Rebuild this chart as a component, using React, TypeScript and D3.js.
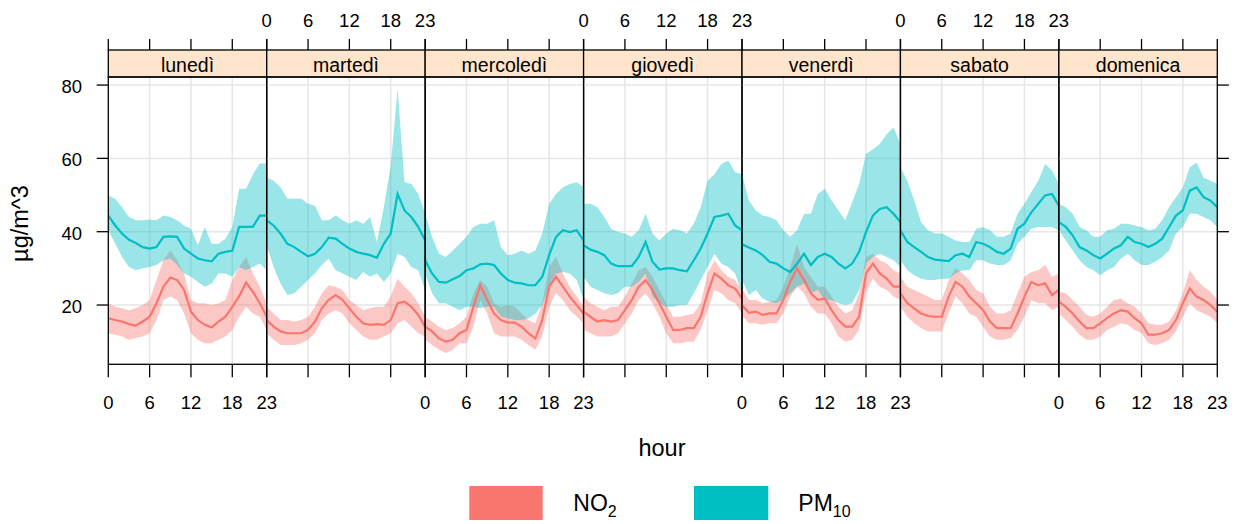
import React from 'react';
import * as d3 from 'd3';

// weekday panels, hourly means with 95% CI (µg/m^3)
const days = ['lunedì', 'martedì', 'mercoledì', 'giovedì', 'venerdì', 'sabato', 'domenica'];
const hourTicks = [0, 6, 12, 18, 23];
const yTicks = [20, 40, 60, 80];

const no2Mean = [
  [16.4, 15.9, 15.5, 14.8, 14.4, 15.5, 16.8, 20.5, 25.0, 27.5, 26.8, 24.1, 18.2, 15.9, 14.6, 13.9, 15.5, 16.8, 19.5, 22.4, 26.1, 23.6, 20.5, 16.8],
  [15.9, 14.1, 12.8, 12.3, 12.3, 12.3, 13.2, 15.5, 19.1, 21.4, 22.7, 21.4, 19.1, 16.8, 15.0, 14.6, 14.8, 14.6, 15.9, 20.5, 20.9, 19.5, 17.3, 14.1],
  [14.1, 12.8, 10.9, 10.0, 10.5, 12.3, 13.2, 19.5, 25.4, 21.4, 17.7, 15.9, 15.2, 15.2, 14.1, 12.3, 10.9, 15.9, 25.0, 27.7, 25.0, 22.3, 20.0, 17.7],
  [18.2, 16.8, 15.5, 15.9, 15.5, 15.9, 18.6, 21.4, 25.0, 26.8, 24.1, 20.5, 16.8, 13.2, 13.2, 13.7, 13.7, 16.8, 23.2, 28.6, 27.2, 25.4, 24.5, 21.8],
  [20.0, 17.9, 18.2, 17.3, 17.7, 17.7, 21.4, 26.3, 30.0, 26.8, 23.2, 21.4, 21.8, 18.6, 15.9, 14.1, 14.1, 16.8, 28.6, 31.3, 28.6, 27.2, 25.0, 25.0],
  [23.2, 20.5, 19.1, 17.7, 17.0, 16.8, 16.8, 22.3, 26.3, 25.0, 22.3, 20.5, 18.6, 15.5, 13.7, 13.7, 13.7, 17.7, 22.3, 26.3, 25.4, 25.9, 22.7, 24.1],
  [20.9, 19.5, 17.7, 15.5, 13.7, 13.7, 15.0, 16.4, 17.7, 18.6, 18.2, 16.4, 15.0, 11.9, 11.9, 12.3, 13.2, 15.9, 20.5, 24.5, 22.3, 21.4, 20.0, 18.2],
];
const no2Hi = [
  [20.5, 19.5, 19.1, 18.6, 19.1, 20.0, 21.4, 26.8, 32.2, 34.9, 32.2, 28.6, 21.4, 20.5, 20.5, 20.0, 20.5, 21.4, 26.8, 30.4, 33.1, 28.6, 25.0, 20.5],
  [19.5, 17.7, 15.9, 15.9, 15.5, 15.9, 16.8, 19.5, 23.2, 25.4, 25.0, 24.1, 21.4, 20.0, 18.6, 19.1, 19.5, 19.5, 22.3, 27.2, 25.0, 23.2, 20.5, 16.8],
  [16.8, 15.5, 14.1, 13.2, 13.7, 15.0, 16.8, 23.2, 26.8, 25.0, 20.5, 19.5, 20.0, 19.5, 17.7, 15.9, 15.0, 20.5, 30.4, 33.1, 28.6, 25.0, 22.3, 19.5],
  [22.3, 20.5, 19.5, 18.6, 19.5, 19.5, 22.3, 25.9, 29.5, 30.4, 27.7, 24.1, 20.5, 16.8, 16.8, 17.3, 17.7, 20.5, 28.6, 32.2, 29.5, 27.7, 26.8, 24.1],
  [24.5, 21.4, 21.4, 20.5, 20.9, 21.4, 25.0, 30.4, 36.7, 30.4, 27.7, 25.0, 25.0, 22.3, 19.5, 17.7, 18.6, 23.2, 33.1, 34.0, 32.2, 31.3, 29.5, 28.6],
  [27.7, 25.0, 24.1, 23.2, 22.3, 21.4, 21.4, 26.8, 30.0, 28.6, 26.8, 24.1, 23.2, 19.5, 17.7, 17.7, 18.6, 23.2, 27.7, 29.0, 29.5, 30.9, 27.7, 28.6],
  [23.6, 23.2, 21.4, 19.5, 17.3, 16.8, 17.7, 19.5, 21.4, 21.8, 20.5, 19.5, 17.7, 15.0, 14.6, 14.6, 15.5, 18.6, 23.2, 29.5, 26.8, 25.0, 23.6, 21.4],
];
const no2Lo = [
  [12.3, 11.9, 11.4, 10.5, 11.0, 11.4, 12.3, 15.9, 21.4, 22.3, 21.4, 17.7, 12.3, 10.5, 9.6, 9.6, 10.5, 11.4, 13.2, 16.8, 19.5, 17.7, 16.8, 13.2],
  [12.3, 10.5, 9.1, 9.1, 9.1, 9.6, 10.5, 12.3, 15.9, 17.7, 18.6, 17.7, 15.0, 13.2, 11.4, 10.5, 10.5, 11.4, 12.3, 15.0, 15.9, 14.1, 12.3, 11.4],
  [10.5, 9.1, 7.8, 6.9, 7.8, 9.6, 9.6, 14.1, 21.4, 17.7, 12.3, 11.4, 11.4, 11.4, 10.5, 9.1, 7.8, 11.4, 19.5, 23.2, 21.4, 18.6, 16.8, 15.0],
  [13.2, 12.3, 11.4, 11.4, 11.4, 12.3, 15.0, 17.7, 21.4, 23.2, 20.5, 16.8, 12.3, 9.6, 9.6, 10.0, 10.0, 13.2, 18.6, 24.1, 23.2, 21.4, 20.5, 17.7],
  [17.0, 15.0, 15.0, 14.6, 15.0, 15.0, 17.7, 22.3, 25.0, 23.2, 19.5, 17.7, 17.7, 15.0, 11.4, 10.0, 10.5, 13.2, 23.6, 27.2, 25.0, 24.1, 22.3, 21.4],
  [19.5, 16.8, 15.0, 13.7, 12.8, 12.8, 12.8, 17.7, 22.3, 20.5, 17.7, 16.8, 14.1, 11.4, 10.5, 10.5, 11.0, 13.2, 16.8, 21.4, 20.5, 20.5, 18.6, 19.5],
  [17.7, 15.9, 14.1, 11.9, 10.5, 10.5, 11.4, 13.2, 14.1, 15.0, 14.6, 13.2, 12.3, 9.6, 9.1, 9.6, 10.5, 12.8, 16.8, 20.5, 18.6, 17.7, 16.8, 15.0],
];

const pm10Mean = [
  [44.4, 41.7, 39.5, 37.8, 36.9, 35.8, 35.4, 35.8, 38.6, 38.7, 38.6, 35.4, 34.0, 32.7, 32.2, 31.9, 34.0, 34.5, 34.8, 41.3, 41.3, 41.4, 44.4, 44.4],
  [43.1, 41.7, 39.5, 36.7, 35.8, 34.5, 33.3, 34.0, 35.8, 38.4, 38.1, 36.7, 35.4, 34.5, 34.0, 33.6, 32.9, 36.7, 39.5, 50.3, 45.8, 44.0, 41.3, 37.6],
  [32.2, 28.6, 26.3, 26.1, 27.0, 27.9, 29.5, 30.0, 31.1, 31.3, 30.9, 28.6, 26.8, 26.1, 25.9, 25.4, 25.4, 27.7, 33.6, 38.6, 40.4, 39.9, 40.4, 37.6],
  [36.3, 35.1, 34.5, 33.6, 31.3, 30.6, 30.6, 30.6, 33.1, 37.2, 31.8, 29.7, 30.0, 30.0, 29.5, 29.2, 32.2, 35.4, 39.5, 44.0, 44.4, 44.9, 41.7, 40.4],
  [36.6, 35.7, 34.9, 33.6, 31.8, 31.3, 30.0, 29.0, 31.3, 34.0, 30.9, 33.1, 34.0, 33.1, 31.3, 30.0, 31.3, 34.5, 39.9, 44.4, 46.2, 46.7, 44.9, 42.6],
  [40.4, 37.2, 35.8, 34.5, 33.1, 32.4, 32.2, 32.0, 33.6, 34.0, 33.1, 37.2, 36.7, 35.8, 34.5, 34.0, 35.4, 40.8, 42.2, 45.3, 47.6, 49.9, 50.3, 47.1],
  [42.6, 41.3, 39.0, 35.8, 34.9, 33.6, 32.7, 34.0, 35.4, 36.3, 38.6, 37.2, 36.7, 35.8, 36.7, 38.1, 41.3, 44.4, 45.8, 51.2, 52.1, 49.4, 48.5, 46.7],
];
const pm10Hi = [
  [49.9, 49.0, 46.7, 44.0, 43.1, 43.1, 43.3, 43.1, 44.4, 44.0, 43.1, 41.7, 40.8, 36.3, 41.3, 36.7, 36.7, 38.1, 41.3, 51.7, 51.7, 55.7, 58.6, 58.6],
  [54.8, 53.9, 52.1, 49.0, 49.0, 49.0, 47.6, 47.1, 43.1, 43.1, 44.4, 43.1, 42.2, 43.1, 42.2, 44.0, 37.2, 46.7, 58.0, 79.0, 53.5, 53.0, 50.3, 44.9],
  [44.9, 38.6, 34.0, 33.1, 34.9, 36.7, 38.6, 41.3, 42.2, 42.2, 43.1, 35.8, 33.6, 34.0, 34.9, 34.0, 34.9, 39.5, 47.6, 50.3, 52.1, 53.0, 53.5, 52.1],
  [47.6, 47.6, 46.7, 44.0, 40.8, 39.9, 39.5, 38.6, 40.4, 44.9, 39.5, 37.6, 39.5, 40.8, 40.4, 39.5, 42.2, 46.7, 53.9, 55.7, 58.5, 59.4, 56.2, 55.7],
  [55.7, 48.5, 45.8, 44.4, 44.0, 43.1, 40.4, 38.6, 40.4, 44.9, 44.9, 50.3, 51.7, 48.5, 45.8, 43.1, 48.1, 53.0, 61.2, 62.5, 63.9, 66.6, 68.4, 63.9],
  [57.6, 53.9, 48.5, 42.6, 40.4, 39.5, 39.5, 38.6, 37.6, 37.2, 37.2, 40.8, 41.3, 40.4, 38.6, 38.6, 39.5, 44.9, 47.6, 50.8, 53.9, 58.5, 56.7, 53.0],
  [47.6, 46.7, 44.9, 41.3, 40.4, 38.6, 38.6, 40.4, 40.8, 42.2, 42.2, 41.7, 41.3, 40.4, 40.8, 43.1, 46.7, 49.4, 52.1, 57.6, 58.9, 54.8, 53.9, 53.0],
];
const pm10Lo = [
  [40.4, 36.7, 33.1, 30.4, 29.5, 30.0, 30.4, 30.9, 32.2, 32.7, 30.9, 28.6, 27.7, 26.3, 25.0, 25.9, 28.6, 28.6, 27.7, 30.4, 29.5, 30.4, 31.3, 29.5],
  [36.3, 30.4, 25.9, 22.7, 23.2, 25.0, 26.8, 28.6, 30.9, 32.7, 29.5, 28.6, 27.7, 26.8, 29.0, 27.7, 28.6, 26.3, 28.6, 34.0, 33.1, 30.4, 29.5, 24.1],
  [28.6, 23.2, 20.5, 20.5, 19.5, 18.6, 19.5, 19.5, 19.1, 19.5, 19.5, 16.8, 16.4, 15.9, 15.9, 16.4, 17.7, 20.0, 25.0, 28.6, 29.0, 28.6, 26.8, 21.4],
  [27.7, 25.0, 24.1, 23.2, 22.7, 23.2, 25.0, 25.0, 26.3, 28.6, 22.3, 20.5, 19.5, 19.5, 20.0, 20.0, 23.2, 26.8, 30.4, 34.0, 31.3, 30.4, 28.6, 23.2],
  [26.8, 22.7, 24.1, 21.8, 20.9, 20.5, 21.4, 23.2, 25.0, 25.9, 23.2, 24.1, 21.4, 21.4, 20.5, 20.0, 20.5, 24.1, 31.3, 33.1, 34.0, 33.1, 32.2, 30.4],
  [32.2, 29.5, 28.1, 27.2, 26.8, 26.8, 27.2, 27.2, 28.6, 29.5, 29.5, 32.2, 32.2, 31.3, 30.9, 30.9, 32.2, 36.7, 38.6, 40.8, 41.3, 41.3, 41.3, 40.4],
  [40.4, 37.6, 34.9, 32.2, 30.4, 29.5, 28.1, 29.5, 30.4, 32.7, 34.0, 32.2, 30.9, 30.9, 31.8, 33.1, 34.9, 39.5, 41.3, 44.9, 44.9, 44.0, 43.1, 41.3],
];

const W = 1239;
const H = 524;
const left = 108.3;
const right = 1217.3;
const stripTop = 50;
const top = 77;
const bottom = 364.3;
const font = '"Liberation Sans", Arial, sans-serif';

const col = { no2: '#F8766D', pm10: '#00BFC4' };

export default function App() {
  const outer = d3.scaleBand().domain(days).range([left, right]);
  const bw = outer.bandwidth();
  const x = d3.scaleLinear().domain([0, 23]).range([0, bw]);
  const y = d3.scaleLinear().domain([3.83, 82.2]).range([bottom, top]);

  const hours = d3.range(24);
  const band = (lo: number[], hi: number[]) =>
    d3.area<number>().x(h => x(h)).y0(h => y(lo[h])).y1(h => y(hi[h]))(hours) || '';
  const line = (m: number[]) => d3.line<number>().x(h => x(h)).y(h => y(m[h]))(hours) || '';

  const series = [
    { key: 'no2', mean: no2Mean, lo: no2Lo, hi: no2Hi },
    { key: 'pm10', mean: pm10Mean, lo: pm10Lo, hi: pm10Hi },
  ];

  return (
    <svg width={W} height={H} style={{ position: 'absolute', left: 0, top: 0, background: '#fff' }}
      fontFamily={font}>
      <defs>
        <clipPath id="panel">
          <rect x={0} y={top} width={bw} height={bottom - top} />
        </clipPath>
      </defs>

      {days.map((d, i) => (
        <g key={d} transform={`translate(${outer(d)},0)`}>
          {/* grid */}
          {yTicks.map(t => (
            <line key={'h' + t} x1={0} x2={bw} y1={y(t)} y2={y(t)} stroke="#e6e6e6" strokeWidth={1.5} />
          ))}
          {hourTicks.slice(1, 4).map(t => (
            <line key={'v' + t} x1={x(t)} x2={x(t)} y1={top} y2={bottom} stroke="#e6e6e6" strokeWidth={1.5} />
          ))}
          <g clipPath="url(#panel)">
            {series.map(s => (
              <path key={'b' + s.key} d={band(s.lo[i], s.hi[i])} fill={col[s.key]} fillOpacity={0.4} />
            ))}
            {series.map(s => (
              <path key={'l' + s.key} d={line(s.mean[i])} fill="none" stroke={col[s.key]} strokeWidth={2.2} />
            ))}
          </g>
          {/* strip */}
          <rect x={0} y={stripTop} width={bw} height={top - stripTop} fill="#FFE5CC" stroke="#000" strokeWidth={1.3} />
          <text x={bw / 2} y={71.5} textAnchor="middle" fontSize={19.5} fill="#000">{d}</text>
          <rect x={0} y={top} width={bw} height={bottom - top} fill="none" stroke="#000" strokeWidth={1.3} />
          {/* hour ticks, top and bottom */}
          {hourTicks.map(t => (
            <g key={'t' + t}>
              <line x1={x(t)} x2={x(t)} y1={stripTop - 11} y2={stripTop} stroke="#000" strokeWidth={1.3} />
              <line x1={x(t)} x2={x(t)} y1={bottom} y2={bottom + 13} stroke="#000" strokeWidth={1.3} />
              {i % 2 === 1 ? (
                <text x={x(t)} y={27} textAnchor="middle" fontSize={18.5} fill="#000">{t}</text>
              ) : (
                <text x={x(t)} y={408.5} textAnchor="middle" fontSize={18.5} fill="#000">{t}</text>
              )}
            </g>
          ))}
        </g>
      ))}

      {/* y axis, both sides */}
      {yTicks.map(t => (
        <g key={'y' + t}>
          <line x1={left - 11.6} x2={left} y1={y(t)} y2={y(t)} stroke="#000" strokeWidth={1.3} />
          <line x1={right} x2={right + 11.6} y1={y(t)} y2={y(t)} stroke="#000" strokeWidth={1.3} />
          <text x={82} y={y(t) + 8} textAnchor="end" fontSize={18.5} fill="#000">{t}</text>
        </g>
      ))}

      <text transform="translate(28,223.5) rotate(-90)" textAnchor="middle" fontSize={23.5} fill="#000">µg/m^3</text>
      <text x={662} y={456} textAnchor="middle" fontSize={23.5} fill="#000">hour</text>

      {/* legend */}
      <rect x={469.3} y={486} width={73.4} height={34} fill={col.no2} />
      <text x={573.3} y={511} fontSize={23} fill="#000">
        NO<tspan fontSize={16} dy={6}>2</tspan>
      </text>
      <rect x={694} y={486} width={74.3} height={34} fill={col.pm10} />
      <text x={798.3} y={511} fontSize={23} fill="#000">
        PM<tspan fontSize={16} dy={6}>10</tspan>
      </text>
    </svg>
  );
}
